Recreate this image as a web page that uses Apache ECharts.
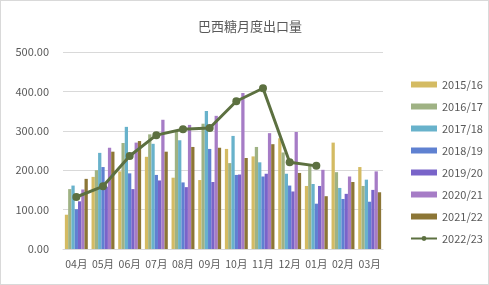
<!DOCTYPE html>
<html><head><meta charset="utf-8">
<script src="https://cdn.jsdelivr.net/npm/echarts@6/dist/echarts.min.js"></script>
<style>html,body{margin:0;padding:0;background:#fff}#c{width:487px;height:283px;border:1px solid #d9d9d9}</style>
</head><body><div id="c"></div>
<script>
const categories = ['04月','05月','06月','07月','08月','09月','10月','11月','12月','01月','02月','03月'];
const yTicks = [0,100,200,300,400,500];
const s1516 = [87, 183, 197, 234, 181, 175, 254, 235, 281, 160, 270, 208];
const s1617 = [152, 200, 269, 291, 299, 318, 218, 259, 245, 215, 195, 160];
const s1718 = [161, 244, 310, 267, 276, 350, 287, 220, 191, 165, 155, 176];
const s1819 = [101, 208, 192, 188, 169, 254, 188, 184, 161, 115, 127, 120];
const s1920 = [121, 158, 152, 174, 157, 170, 189, 191, 146, 160, 140, 150];
const s2021 = [151, 257, 270, 328, 315, 338, 396, 294, 297, 201, 184, 197];
const s2122 = [178, 247, 274, 247, 259, 257, 231, 266, 193, 134, 170, 144];
const s2223 = [132, 159, 236, 289, 304, 307, 375, 408, 220, 211, null, null];

const barNames = ['2015/16','2016/17','2017/18','2018/19','2019/20','2020/21','2021/22'];
const barData = [s1516, s1617, s1718, s1819, s1920, s2021, s2122];
const barColors = ['#d4bb63','#9fb284','#68b2cb','#5f81d1','#7964c9','#a67cc6','#8c7636'];
const font = '"Noto Sans CJK SC","Noto Sans",sans-serif';

const series = barNames.map((n,i)=>({
  name:n, type:'bar', data:barData[i], barGap:'0%', barCategoryGap:'14%',
  itemStyle:{color:barColors[i]}
}));
series.push({
  name:'2022/23', type:'line', data:s2223, symbol:'circle', symbolSize:8,
  lineStyle:{color:'#5c7040', width:3}, itemStyle:{color:'#5c7040'}
});

const chart = echarts.init(document.getElementById('c'));
chart.setOption({
  animation:false,
  textStyle:{fontFamily:font},
  title:{text:'巴西糖月度出口量', left:244, top:14, textAlign:'center',
    textStyle:{fontSize:13, fontWeight:'normal', color:'#595959', fontFamily:font}},
  legend:{orient:'vertical', left:404, top:73, itemWidth:26, itemHeight:6, itemGap:11,
    textStyle:{fontSize:11, color:'#595959', fontFamily:font},
    data:barNames.map(n=>({name:n, icon:'rect'})).concat([{name:'2022/23'}])},
  grid:{left:62, right:105, top:51, bottom:35},
  xAxis:{type:'category', data:categories,
    axisLine:{lineStyle:{color:'#d9d9d9'}}, axisTick:{show:false},
    axisLabel:{color:'#595959', fontSize:10.5, margin:10, interval:0}},
  yAxis:{type:'value', min:yTicks[0], max:yTicks[yTicks.length-1], interval:100,
    axisLabel:{color:'#595959', fontSize:11, margin:14, formatter:v=>v.toFixed(2)},
    axisLine:{show:false}, axisTick:{show:false},
    splitLine:{lineStyle:{color:'#d9d9d9'}}},
  series:series
});
</script></body></html>
